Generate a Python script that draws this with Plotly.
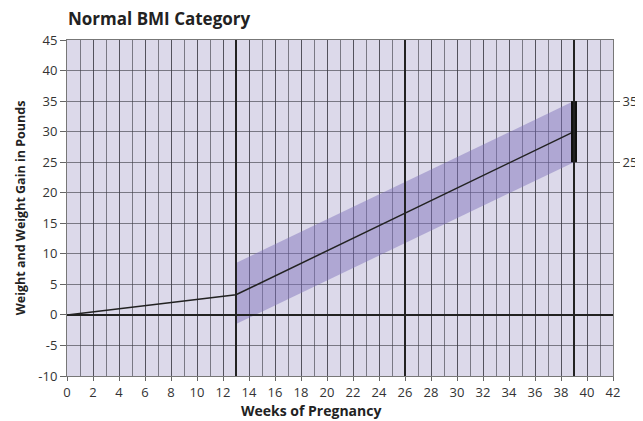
import plotly.graph_objects as go

# Data
line_weeks = [0, 13, 39]
line_gain = [0, 3.3, 30]
band_weeks = [13, 39]
band_upper = [8.5, 35]
band_lower = [-1.5, 25]
range_week = [39, 39]
range_gain = [25, 35]
trimester_weeks = [13, 26, 39]
x_ticks = list(range(0, 43, 2))
y_ticks = list(range(-10, 46, 5))
y_tick_labels = [str(v) for v in y_ticks]
right_ticks = [25, 35]

fig = go.Figure()

fig.add_trace(go.Scatter(x=band_weeks, y=band_lower, mode="lines",
                         line=dict(width=0), showlegend=False, hoverinfo="skip"))
fig.add_trace(go.Scatter(x=band_weeks, y=band_upper, mode="lines",
                         line=dict(width=0), fill="tonexty",
                         fillcolor="rgba(125,112,185,0.48)", showlegend=False, hoverinfo="skip"))

for w in trimester_weeks:
    fig.add_shape(type="line", x0=w, x1=w, y0=-10, y1=45, xref="x", yref="y",
                  line=dict(color="#222222", width=2), layer="above")
fig.add_shape(type="line", x0=0, x1=42, y0=0, y1=0, xref="x", yref="y",
              line=dict(color="#222222", width=2), layer="above")

fig.add_trace(go.Scatter(x=line_weeks, y=line_gain, mode="lines",
                         line=dict(color="#222222", width=1.5), showlegend=False))
fig.add_trace(go.Scatter(x=range_week, y=range_gain, mode="lines",
                         line=dict(color="#111111", width=6), showlegend=False))

# invisible trace for right axis
fig.add_trace(go.Scatter(x=[None], y=[None], yaxis="y2", showlegend=False))

FONT = "Open Sans, DejaVu Sans, sans-serif"
tickfont = dict(family=FONT, size=13, color="#333333")
gridc = "rgba(60,60,70,0.62)"
fig.update_layout(
    width=635, height=413,
    margin=dict(l=59, r=30, t=32, b=45),
    paper_bgcolor="white",
    plot_bgcolor="#dcd9ea",
    title=dict(text="<b>Normal BMI Category</b>", x=0.0945, xanchor="left", y=0.973, yanchor="middle",
               font=dict(family=FONT, size=17, color="#222222")),
    xaxis=dict(range=[0, 42], tickvals=x_ticks, showgrid=True, gridcolor=gridc, gridwidth=1,
               minor=dict(dtick=1, showgrid=True, gridcolor=gridc, gridwidth=1),
               ticks="outside", ticklen=4, tickcolor="#666666", zeroline=False,
               showline=True, linecolor="#777777", mirror=True, automargin=False,
               tickfont=tickfont),
    yaxis=dict(range=[-10, 45], tickvals=y_ticks, ticktext=y_tick_labels,
               showgrid=True, gridcolor=gridc, gridwidth=1,
               ticks="outside", ticklen=6, tickcolor="#666666", zeroline=False,
               showline=True, linecolor="#777777", mirror=True, automargin=False,
               tickfont=tickfont,
               title=dict(text="<b>Weight and Weight Gain in Pounds</b>", standoff=9,
                          font=dict(family=FONT, size=12.5, color="#222222"))),
    yaxis2=dict(range=[-10, 45], tickvals=right_ticks, overlaying="y", side="right",
                showgrid=False, ticks="outside", ticklen=6, tickcolor="#666666", zeroline=False,
                automargin=False, tickfont=tickfont),
    annotations=[dict(text="<b>Weeks of Pregnancy</b>", xref="paper", yref="paper",
                      x=0.447, y=-0.104, xanchor="center", yanchor="middle", showarrow=False,
                      font=dict(family=FONT, size=14, color="#222222"))],
)

fig.write_html("out.html")
